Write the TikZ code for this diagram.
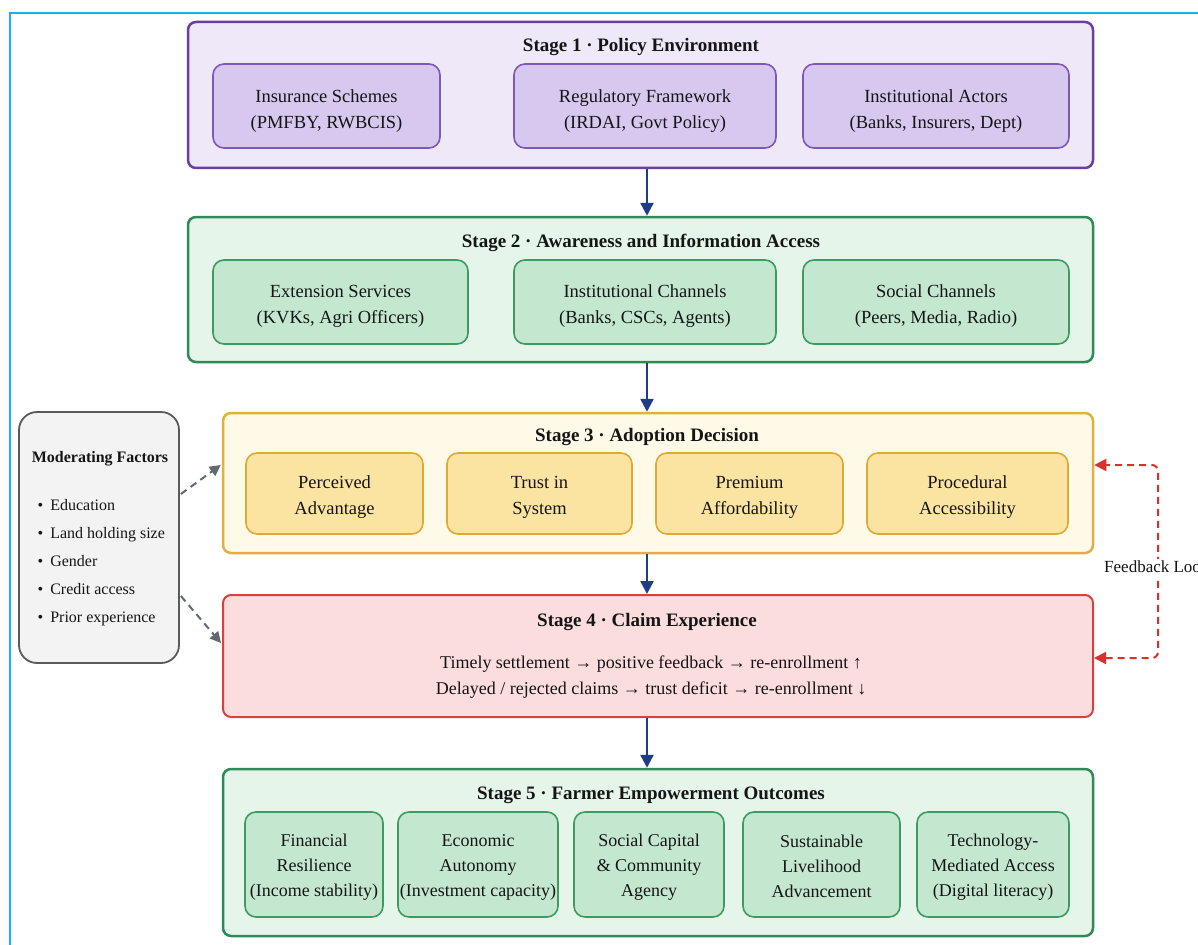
\documentclass[tikz,border=0pt]{standalone}
\usepackage{fontspec}
\setmainfont{Liberation Serif}
\usetikzlibrary{arrows.meta,calc}
\definecolor{cyanb}{HTML}{1AB0F0}
\definecolor{pDraw}{HTML}{6A3FA0}
\definecolor{pFill}{HTML}{EFE8F9}
\definecolor{pInFill}{HTML}{D6C8EE}
\definecolor{pInDraw}{HTML}{7D58B8}
\definecolor{gDraw}{HTML}{2E8B57}
\definecolor{gFill}{HTML}{E5F5EA}
\definecolor{gInFill}{HTML}{C4E8CF}
\definecolor{gInDraw}{HTML}{3F9A62}
\definecolor{yDraw}{HTML}{E0B040}
\definecolor{yFill}{HTML}{FFF9E8}
\definecolor{yInFill}{HTML}{FBE3A2}
\definecolor{yInDraw}{HTML}{DDAA35}
\definecolor{rDraw}{HTML}{D9413F}
\definecolor{rFill}{HTML}{FCDDDD}
\definecolor{mDraw}{HTML}{5A5A5A}
\definecolor{mFill}{HTML}{F3F3F3}
\definecolor{navy}{HTML}{1F3C88}
\definecolor{grayarrow}{HTML}{606870}
\definecolor{fbred}{HTML}{D93030}
\definecolor{txt}{HTML}{151515}
\newcommand\liftby[1]{\rule{0pt}{#1}}
\tikzset{
  outerbox/.style={rectangle, rounded corners=8pt, line width=2.5pt, inner sep=0pt},
  innerbox/.style={rectangle, rounded corners=11pt, line width=1.6pt, inner sep=0pt, align=center, text=txt, font=\fontsize{18.5}{26}\selectfont},
  s1i/.style={innerbox, draw=pInDraw, fill=pInFill},
  s1o/.style={outerbox, draw=pDraw, fill=pFill},
  s2o/.style={outerbox, draw=gDraw, fill=gFill},
  s2i/.style={innerbox, draw=gInDraw, fill=gInFill},
  s3o/.style={outerbox, draw=yDraw, fill=yFill},
  s3i/.style={innerbox, draw=yInDraw, fill=yInFill},
  s4o/.style={outerbox, draw=rDraw, fill=rFill, line width=2pt},
  s5i/.style={innerbox, draw=gInDraw, fill=gInFill, font=\fontsize{18}{25}\selectfont},
  stitle/.style={font=\fontsize{19}{23}\selectfont\bfseries, text=txt, inner sep=0pt},
  flow/.style={draw=navy, line width=2.5pt, -{Triangle[width=13pt,length=13pt]}},
  modarrow/.style={draw=grayarrow, line width=2pt, dash pattern=on 7pt off 5pt, -{Triangle[width=11pt,length=11pt]}},
  fbarrow/.style={draw=fbred, line width=2pt, dash pattern=on 7pt off 5pt, rounded corners=6pt, {Triangle[width=12pt,length=12pt]}-{Triangle[width=12pt,length=12pt]}},
}
\begin{document}
\begin{tikzpicture}[x=1pt,y=-1pt]
\useasboundingbox (0,0) rectangle (1198,944);
\clip (0,0) rectangle (1198,944);
\fill[white] (0,0) rectangle (1198,944);
\draw[cyanb, line width=2.5pt] (10,946) -- (10,13) -- (1200,13);

% Stage 1
\node[s1o, minimum width=905, minimum height=146] (s1) at (640.5,95) {};
\node[stitle] (s1t) at (641,47.5) {Stage 1 · Policy Environment};
\node[s1i, minimum width=227, minimum height=84] (s1a) at (326.5,106) {\liftby{23pt}Insurance Schemes\\(PMFBY, RWBCIS)};
\node[s1i, minimum width=262, minimum height=84] (s1b) at (645,106) {\liftby{23pt}Regulatory Framework\\(IRDAI, Govt Policy)};
\node[s1i, minimum width=266, minimum height=84] (s1c) at (936,106) {\liftby{23pt}Institutional Actors\\(Banks, Insurers, Dept)};

% Stage 2
\node[s2o, minimum width=905, minimum height=145] (s2) at (640.5,289.5) {};
\node[stitle] (s2t) at (641,243) {Stage 2 · Awareness and Information Access};
\node[s2i, minimum width=255, minimum height=84] (s2a) at (340.5,302) {\liftby{21pt}Extension Services\\(KVKs, Agri Officers)};
\node[s2i, minimum width=262, minimum height=84] (s2b) at (645,302) {\liftby{21pt}Institutional Channels\\(Banks, CSCs, Agents)};
\node[s2i, minimum width=266, minimum height=84] (s2c) at (936,302) {\liftby{21pt}Social Channels\\(Peers, Media, Radio)};

% Stage 3
\node[s3o, minimum width=870, minimum height=140] (s3) at (658,483) {};
\node[stitle] (s3t) at (647,437.5) {Stage 3 · Adoption Decision};
\node[s3i, minimum width=177, minimum height=81] (s3a) at (334.5,493.5) {\liftby{19pt}Perceived\\Advantage};
\node[s3i, minimum width=185, minimum height=81] (s3b) at (539.5,493.5) {\liftby{19pt}Trust in\\System};
\node[s3i, minimum width=187, minimum height=81] (s3c) at (749.5,493.5) {\liftby{19pt}Premium\\Affordability};
\node[s3i, minimum width=201, minimum height=81] (s3d) at (967.5,493.5) {\liftby{19pt}Procedural\\Accessibility};

% Stage 4
\node[s4o, minimum width=870, minimum height=122] (s4) at (658,656) {};
\node[stitle] (s4t) at (647,621.5) {Stage 4 · Claim Experience};
\node[align=center, text=txt, font=\fontsize{18}{26}\selectfont, inner sep=0pt] (s4x) at (651,677)
  {Timely settlement → positive feedback → re-enrollment ↑\\Delayed / rejected claims → trust deficit → re-enrollment ↓};

% Stage 5
\node[s2o, minimum width=870, minimum height=167] (s5) at (658,852.5) {};
\node[stitle] (s5t) at (651,795) {Stage 5 · Farmer Empowerment Outcomes};
\node[s5i, minimum width=138, minimum height=105] (s5a) at (314,864.5) {\liftby{17pt}Financial\\Resilience\\(Income stability)};
\node[s5i, minimum width=160, minimum height=105] (s5b) at (478,864.5) {\liftby{17pt}Economic\\Autonomy\\(Investment capacity)};
\node[s5i, minimum width=150, minimum height=105] (s5c) at (649,864.5) {\liftby{17pt}Social Capital\\\& Community\\Agency};
\node[s5i, minimum width=157, minimum height=105] (s5d) at (821.5,864.5) {\liftby{17pt}Sustainable\\Livelihood\\Advancement};
\node[s5i, minimum width=152, minimum height=105] (s5e) at (993,864.5) {\liftby{17pt}Technology-\\Mediated Access\\(Digital literacy)};

% Moderating factors
\node[rectangle, rounded corners=18pt, draw=mDraw, fill=mFill, line width=1.8pt, minimum width=160, minimum height=251, inner sep=0pt] (mf) at (99,537.5) {};
\node[font=\fontsize{16}{20}\selectfont\bfseries, text=txt, inner sep=0pt] (mft) at (100,458.5) {Moderating Factors};
\node[font=\fontsize{16}{28}\selectfont, text=txt, align=left, inner sep=0pt, anchor=west] (mfl) at (37.5,563)
  {•\hspace{7pt}Education\\•\hspace{7pt}Land holding size\\•\hspace{7pt}Gender\\•\hspace{7pt}Credit access\\•\hspace{7pt}Prior experience};

% Flow arrows
\coordinate (ax) at (647,0);
\draw[flow] (s1.south -| ax) -- (s2.north -| ax);
\draw[flow] (s2.south -| ax) -- (s3.north -| ax);
\draw[flow] (s3.south -| ax) -- (s4.north -| ax);
\draw[flow] (s4.south -| ax) -- (s5.north -| ax);

% Moderating arrows
\draw[modarrow] ([shift={(1,-43.5)}]mf.east) -- ([shift={(-1,-18)}]s3.west);
\draw[modarrow] ([shift={(1,58.5)}]mf.east) -- ([shift={(-1,-13)}]s4.west);

% Feedback loop
\coordinate (fbtop) at (1158,465);
\coordinate (fbbot) at (1158,658);
\draw[fbarrow] (s4.east |- fbbot) -- (fbbot) -- (fbtop) -- (s3.east |- fbtop);
\node[fill=white, inner sep=1pt, anchor=west, text=txt, font=\fontsize{17}{21}\selectfont] (fbl) at (1103,568) {Feedback Loop};
\end{tikzpicture}
\end{document}
